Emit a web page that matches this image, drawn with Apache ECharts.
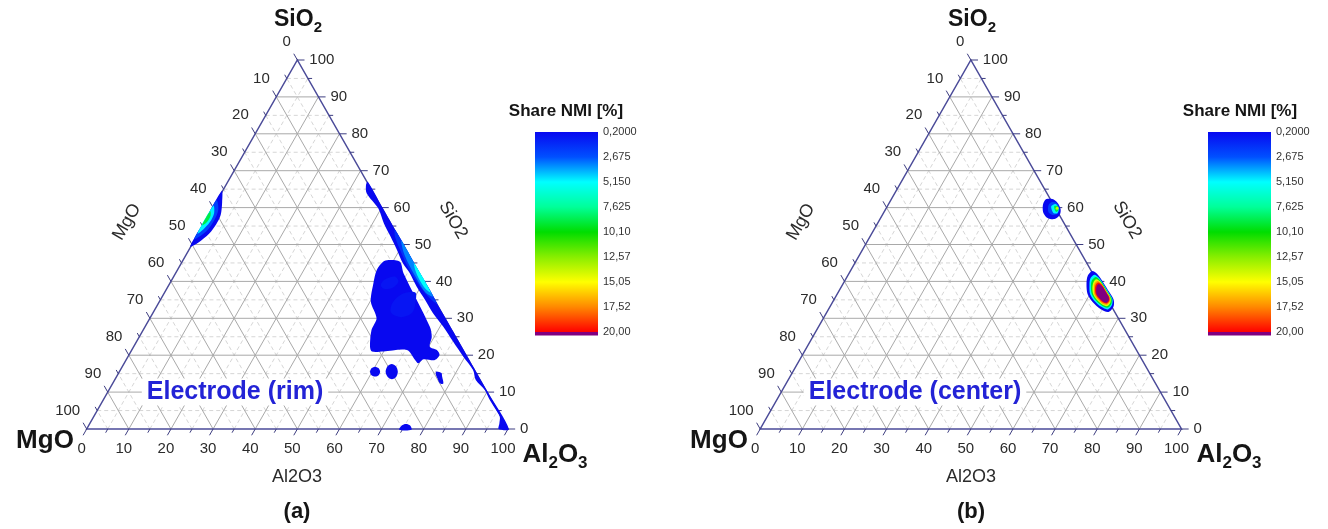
<!DOCTYPE html>
<html><head><meta charset="utf-8">
<script src="https://cdn.jsdelivr.net/npm/echarts@6/dist/echarts.min.js"></script>
<style>html,body{margin:0;padding:0;background:#fff}#c{width:1328px;height:529px}</style>
</head><body><div id="c"></div>
<script>
// ---------------- DATA ----------------
const tickValues = [0,10,20,30,40,50,60,70,80,90,100];
const tickLabels = ['0','10','20','30','40','50','60','70','80','90','100'];
const minorTickValues = [5,15,25,35,45,55,65,75,85,95];
const gridMajor = [10,20,30,40,50,60,70,80,90];
const gridMinor = [5,15,25,35,45,55,65,75,85,95];

const colorbarMin = 0.2, colorbarMax = 20, colorbarStep = 2.475;
const colorbarLabels = ['0,2000','2,675','5,150','7,625','10,10','12,57','15,05','17,52','20,00'];
const colorbarColors = ['#0808f0','#0050ff','#00ffff','#00ff99','#00dd00','#88ee00','#ffff00','#ff8800','#ff0000'];
const overRangeColor = '#800080';

// contour polygons, points are [Al2O3, SiO2] in wt.%  (MgO = 100 - both)
// (a) Electrode (rim)
const rimLeft0 = [[-0.2,64.5],[1.4,61.5],[2.8,58.0],[3.0,55.5],[2.6,53.0],[1.2,50.5],[-0.2,49.5],[-0.2,57.0]];
const rimLeft1 = [[-0.2,62.0],[1.5,59.5],[2.0,56.5],[1.6,53.5],[-0.2,51.5],[-0.2,57.0]];
const rimLeft2 = [[-0.2,60.5],[1.0,58.5],[1.2,56.0],[0.6,54.0],[-0.2,53.0]];
const rimLeft3 = [[-0.2,59.0],[0.5,57.8],[0.5,56.0],[-0.2,55.2]];
const rimStrip0 = [[33.2,67.0],[40.2,60.0],[50.2,50.0],[60.2,40.0],[70.2,30.0],[80.2,20.0],[90.2,10.0],[100.2,0.0],
  [97.8,0.0],[97.2,1.5],[96.4,3.3],[94.1,5.6],[91.7,7.9],[89.2,10.6],[85.7,13.3],[83.7,16.0],[79.6,19.6],[75.1,23.7],
  [70.8,27.7],[66.5,31.4],[62.8,35.0],[59.0,38.6],[55.6,42.2],[52.6,44.9],[49.4,48.5],[46.1,52.1],[42.7,55.7],
  [39.3,59.8],[34.5,63.9],[33.2,66.2]];
const rimStrip1 = [[46.2,54.0],[56.2,44.0],[66.2,34.0],[63.0,36.0],[58.3,40.0],[54.2,44.0],[50.6,48.0],[47.2,52.0]];
const rimStrip2 = [[49.2,51.0],[57.2,43.0],[64.2,36.0],[61.9,37.0],[57.7,41.0],[53.8,45.0],[51.2,48.0]];
const rimStrip3 = [[55.2,45.0],[63.2,37.0],[61.4,38.0],[58.7,40.5],[56.5,43.0]];
const rimMain = [[48.7,45.8],[51.7,45.3],[54.1,42.2],[67.6,27.7],[69.4,25.0],[70.3,22.3],[72.4,21.4],[73.7,20.1],
  [73.3,18.7],[70.5,18.9],[69.8,17.8],[68.6,18.7],[65.3,21.4],[59.9,21.0],[57.2,21.0],[56.1,22.3],[54.2,26.8],
  [53.8,30.0],[50.2,34.5],[48.3,39.5],[47.3,43.1],[47.7,45.3]];
const rimMainPatch1 = [[50.5,40.5],[52.5,41.3],[54.0,40.0],[53.5,38.3],[51.5,38.0],[50.3,39.0]];
const rimMainPatch2 = [[56.5,36.5],[59.5,37.0],[61.0,34.0],[61.5,31.5],[59.5,30.3],[56.5,31.5],[55.5,34.0]];
const rimDot1 = [[61.9,15.5],[61.0,16.5],[60.0,16.9],[59.4,16.5],[59.5,15.5],[60.3,14.6],[61.4,14.2],[62.0,14.6]];
const rimDot2 = [[66.1,15.5],[64.9,17.0],[63.6,17.6],[62.9,17.0],[63.2,15.5],[64.4,14.1],[65.7,13.5],[66.4,14.1]];
const rimDash = [[75.2,15.6],[76.6,15.2],[77.2,14.3],[78.5,12.3],[77.6,12.4],[76.5,13.6],[75.4,14.9]];
const rimBottom = [[74.3,-0.2],[74.3,0.95],[75.1,1.36],[76.3,0.95],[77.2,-0.2]];
const rimLevels = [0.2,2.2,5.0,9.0, 0.2,1.6,3.4,5.2, 0.2,0.65,0.65, 0.2,0.2,0.2,0.2];

// (b) Electrode (center)
const cenUp0 = [[36.6,61.3],[36.8,62.3],[38.2,62.3],[39.9,61.3],[41.5,59.6],[42.1,58.0],[41.4,56.9],[39.6,57.2],[38.0,58.5],[37.1,59.9]];
const cenUp1 = [[38.1,60.7],[38.6,61.5],[40.1,61.0],[41.2,59.6],[41.4,58.3],[40.4,58.0],[39.0,58.8]];
const cenUp2 = [[38.9,60.4],[39.6,61.0],[40.9,59.9],[41.3,58.5],[40.4,58.5],[39.5,59.4]];
const cenUp3 = [[39.6,60.4],[40.4,60.4],[41.1,59.4],[40.9,58.8],[40.2,59.4]];
const cenUp4 = [[40.3,60.2],[40.9,59.9],[40.9,59.4],[40.3,59.6]];
const cenLow0 = [[57.5,42.8],[59.4,41.7],[61.7,39.6],[64.3,37.1],[66.4,35.0],[67.3,33.1],[66.8,31.7],[64.5,32.5],[61.7,34.4],[59.4,36.6],[57.8,39.3],[57.0,41.5]];
const cenLow1 = [[58.4,41.8],[60.0,40.9],[62.0,39.1],[64.2,37.0],[66.0,35.2],[66.7,33.6],[66.3,32.4],[64.4,33.1],[62.0,34.7],[60.0,36.6],[58.7,38.9],[58.0,40.7]];
const cenLow2 = [[59.0,41.2],[60.4,40.4],[62.2,38.8],[64.1,36.9],[65.7,35.4],[66.4,33.9],[66.0,32.9],[64.3,33.5],[62.2,34.9],[60.4,36.6],[59.2,38.6],[58.6,40.2]];
const cenLow3 = [[59.5,40.6],[60.8,39.9],[62.3,38.5],[64.0,36.9],[65.4,35.5],[66.0,34.2],[65.7,33.3],[64.2,33.8],[62.3,35.1],[60.8,36.5],[59.7,38.3],[59.2,39.8]];
const cenLow4 = [[60.0,40.1],[61.1,39.5],[62.5,38.3],[64.0,36.8],[65.2,35.6],[65.7,34.5],[65.4,33.7],[64.1,34.1],[62.5,35.2],[61.1,36.5],[60.2,38.1],[59.7,39.4]];
const cenLow5 = [[60.4,39.7],[61.4,39.2],[62.6,38.1],[63.9,36.8],[65.0,35.7],[65.5,34.7],[65.2,34.0],[64.0,34.4],[62.6,35.4],[61.4,36.5],[60.5,37.9],[60.1,39.1]];
const cenLow6 = [[60.7,39.3],[61.6,38.8],[62.7,37.9],[63.9,36.7],[64.8,35.8],[65.3,34.9],[65.0,34.2],[64.0,34.6],[62.7,35.5],[61.6,36.5],[60.9,37.7],[60.5,38.8]];
const cenLevels = [0.2,2.2,5.0,9.0,14.0, 0.2,5.0,9.5,14.5,17.3,19.6,21.0];

// --------------- helpers ---------------
const F = '"Liberation Sans", Arial, sans-serif';
const SQ = Math.sqrt(3) / 2;
const tern = (a, s) => [a + s / 2, s * SQ];

function hexToRgb(h){ return [parseInt(h.slice(1,3),16), parseInt(h.slice(3,5),16), parseInt(h.slice(5,7),16)]; }
function levelColor(v){
  if (v > colorbarMax) return overRangeColor;
  const n = colorbarColors.length - 1;
  let t = (v - colorbarMin) / (colorbarMax - colorbarMin) * n;
  t = Math.max(0, Math.min(n, t));
  const i = Math.min(n - 1, Math.floor(t)), f = t - i;
  const c0 = hexToRgb(colorbarColors[i]), c1 = hexToRgb(colorbarColors[i + 1]);
  const c = c0.map((x, k) => Math.round(x + (c1[k] - x) * f));
  return 'rgb(' + c.join(',') + ')';
}
function seg(api, p, q, style){
  const P = api.coord(tern(p[0], p[1])), Q = api.coord(tern(q[0], q[1]));
  return {type:'line', shape:{x1:P[0], y1:P[1], x2:Q[0], y2:Q[1]}, style:style};
}
function txt(x, y, text, align){
  return {type:'text', x:x, y:y, style:{text:text, fill:'#2b2b2b', font:'15px ' + F,
    align:align, verticalAlign:'middle', textAlign:align, textVerticalAlign:'middle'}};
}

function gridSeries(gi, values, style, z){
  return {type:'custom', coordinateSystem:'cartesian2d', xAxisIndex:gi, yAxisIndex:gi, silent:true, z:z,
    data: values.map(v => [v, 0]),
    renderItem: (params, api) => {
      const v = api.value(0);
      return {type:'group', children:[
        seg(api, [v, 0], [v, 100 - v], style),
        seg(api, [0, v], [100 - v, v], style),
        seg(api, [100 - v, 0], [0, 100 - v], style)
      ]};
    }};
}
function frameSeries(gi){
  return {type:'custom', coordinateSystem:'cartesian2d', xAxisIndex:gi, yAxisIndex:gi, silent:true, z:4,
    data: [[0, 0]],
    renderItem: (params, api) => ({type:'polygon',
      shape:{points:[api.coord(tern(0,0)), api.coord(tern(100,0)), api.coord(tern(0,100))]},
      style:{fill:null, stroke:'#4b4b99', lineWidth:1.5}})};
}
function tickSeries(gi){
  const all = tickValues.concat(minorTickValues);
  return {type:'custom', coordinateSystem:'cartesian2d', xAxisIndex:gi, yAxisIndex:gi, silent:true, z:4,
    data: all.map(v => [v, 0]),
    renderItem: (params, api) => {
      const v = api.value(0);
      const idx = tickValues.indexOf(v);
      const t = idx >= 0 ? 1.7 : 1.0;
      const st = {stroke:'#3d3d80', lineWidth:1};
      const ch = [
        seg(api, [v, 0], [v, -t], st),
        seg(api, [100 - v, v], [100 - v + t, v], st),
        seg(api, [0, 100 - v], [-t, 100 - v + t], st)
      ];
      if (idx >= 0){
        const lab = tickLabels[idx];
        const b = api.coord(tern(v, 0)), r = api.coord(tern(100 - v, v)), l = api.coord(tern(0, 100 - v));
        ch.push(txt(b[0] - 5, b[1] + 19.5, lab, 'center'));
        ch.push(txt(r[0] + 12, r[1], lab, 'left'));
        ch.push(txt(l[0] - 6.5, l[1] - 18.5, lab, 'right'));
      }
      return {type:'group', children:ch};
    }};
}
function contourSeries(gi, polys, levels){
  return {type:'custom', coordinateSystem:'cartesian2d', xAxisIndex:gi, yAxisIndex:gi, silent:true, z:6,
    data: polys.map((p, i) => [i, levels[i]]),
    renderItem: (params, api) => {
      const i = params.dataIndex;
      const pts = polys[i].map(p => api.coord(tern(p[0], p[1])));
      return {type:'polygon', shape:{points:pts, smooth:0.3},
        style:{fill:levelColor(levels[i]), stroke:null}};
    }};
}
function colorbarSeries(gi){
  const span = colorbarMax - colorbarMin;
  return {type:'custom', coordinateSystem:'cartesian2d', xAxisIndex:gi, yAxisIndex:gi, silent:true, z:4,
    data: [[0, 0]],
    renderItem: (params, api) => {
      const tl = api.coord([0, 0]), br = api.coord([1, span]), pb = api.coord([1, span + 0.35]);
      const stops = colorbarColors.map((c, i) => ({offset:i / (colorbarColors.length - 1), color:c}));
      return {type:'group', children:[
        {type:'rect', shape:{x:tl[0], y:tl[1], width:br[0] - tl[0], height:br[1] - tl[1]},
          style:{fill:new echarts.graphic.LinearGradient(0, 0, 0, 1, stops)}},
        {type:'rect', shape:{x:tl[0], y:br[1], width:br[0] - tl[0], height:pb[1] - br[1]},
          style:{fill:overRangeColor}}
      ]};
    }};
}

function rich(size, sub){
  return {
    b:{fontSize:size, fontWeight:'bold', fontFamily:F, lineHeight:size + 7, fill:'#151515', color:'#151515'},
    s:{fontSize:sub, fontWeight:'bold', fontFamily:F, lineHeight:sub, verticalAlign:'bottom', fill:'#151515', color:'#151515'}
  };
}
function T(x, y, text, font, extra){
  const st = Object.assign({text:text, font:font, fill:'#151515', align:'center', verticalAlign:'middle',
    textAlign:'center', textVerticalAlign:'middle'}, extra || {});
  return {type:'text', x:x, y:y, z:100, style:st};
}
function panelTexts(dx, tag, electrode, ex){
  return [
    T(298 + dx, 20, '{b|SiO}{s|2}', 'bold 23px ' + F, {rich:rich(23, 15)}),
    T(45 + dx, 441, '{b|MgO}', 'bold 26px ' + F, {rich:rich(26, 17)}),
    T(555 + dx, 455, '{b|Al}{s|2}{b|O}{s|3}', 'bold 26px ' + F, {rich:rich(26, 17)}),
    T(297 + dx, 512, tag, 'bold 22px ' + F),
    T(297 + dx, 477, 'Al2O3', '18px ' + F, {fill:'#2b2b2b'}),
    Object.assign(T(127 + dx, 222, 'MgO', '18px ' + F, {fill:'#2b2b2b'}), {rotation:Math.PI / 3}),
    Object.assign(T(453 + dx, 220, 'SiO2', '18px ' + F, {fill:'#2b2b2b'}), {rotation:-Math.PI / 3}),
    T(ex, 392, electrode, 'bold 25px ' + F, {fill:'#2323d6', backgroundColor:'#ffffff', padding:[1, 5]}),
    T(566 + dx, 111, 'Share NMI [%]', 'bold 17px ' + F)
  ];
}

// --------------- chart ---------------
const chart = echarts.init(document.getElementById('c'), null, {renderer:'canvas'});
const triGrid = (left) => ({left:left, top:60, width:421.3, height:369});
const cbGrid = (left) => ({left:left, top:132, width:63, height:200});
const triX = (gi) => ({gridIndex:gi, type:'value', min:0, max:100, show:false});
const triY = (gi) => ({gridIndex:gi, type:'value', min:0, max:100 * SQ, show:false});
const cbX = (gi) => ({gridIndex:gi, type:'value', min:0, max:1, show:false});
const cbY = (gi) => ({gridIndex:gi, type:'value', min:0, max:colorbarMax - colorbarMin, interval:colorbarStep,
  inverse:true, position:'right', axisLine:{show:false}, axisTick:{show:false}, splitLine:{show:false},
  axisLabel:{show:true, margin:5, fontSize:11, fontFamily:F, color:'#333',
    formatter:(v) => colorbarLabels[Math.round(v / colorbarStep)] || ''}});

const rimPolys = [rimLeft0, rimLeft1, rimLeft2, rimLeft3, rimStrip0, rimStrip1, rimStrip2, rimStrip3,
  rimMain, rimMainPatch1, rimMainPatch2, rimDot1, rimDot2, rimDash, rimBottom];
const cenPolys = [cenUp0, cenUp1, cenUp2, cenUp3, cenUp4, cenLow0, cenLow1, cenLow2, cenLow3, cenLow4, cenLow5, cenLow6];

const minorStyle = {stroke:'#d6d6d6', lineWidth:1, lineDash:[4, 3]};
const majorStyle = {stroke:'#a9a9a9', lineWidth:1};

const series = [];
[0, 1].forEach(gi => {
  series.push(gridSeries(gi, gridMinor, minorStyle, 1));
  series.push(gridSeries(gi, gridMajor, majorStyle, 2));
  series.push(frameSeries(gi));
  series.push(tickSeries(gi));
});
series.push(contourSeries(0, rimPolys, rimLevels));
series.push(contourSeries(1, cenPolys, cenLevels));
series.push(colorbarSeries(2));
series.push(colorbarSeries(3));

chart.setOption({
  animation:false,
  backgroundColor:'#ffffff',
  grid:[triGrid(86.7), triGrid(760.2), cbGrid(535), cbGrid(1208)],
  xAxis:[triX(0), triX(1), cbX(2), cbX(3)],
  yAxis:[triY(0), triY(1), cbY(2), cbY(3)],
  series:series,
  graphic:[].concat(panelTexts(0, '(a)', 'Electrode (rim)', 235), panelTexts(674, '(b)', 'Electrode (center)', 915))
});
</script></body></html>
